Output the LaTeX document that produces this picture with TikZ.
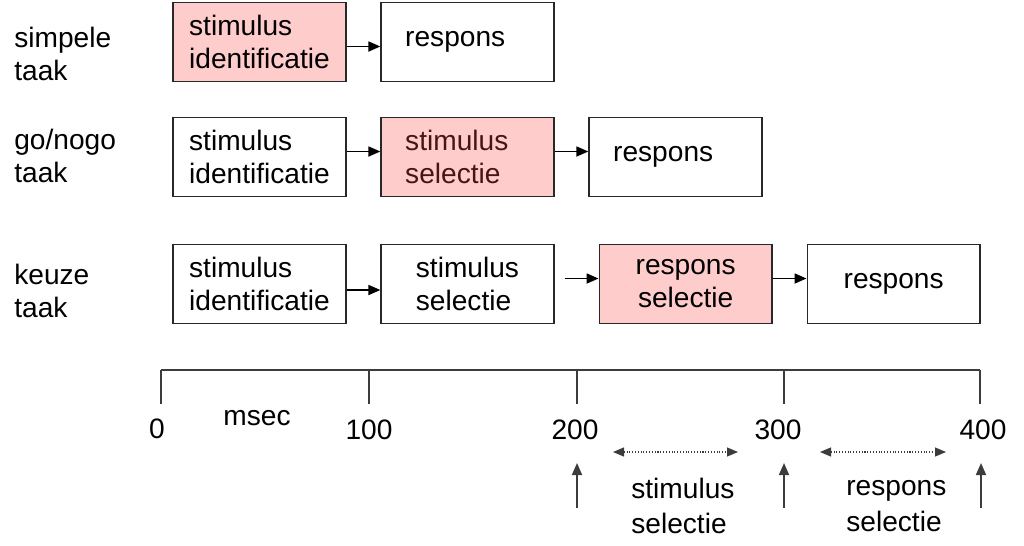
\documentclass[tikz,border=0pt]{standalone}
\usepackage{fontspec}
\setmainfont{Liberation Sans}
\usepackage{xcolor}
\usepackage{tikz}
\usetikzlibrary{arrows.meta, positioning}
\definecolor{boxpink}{RGB}{255,204,204}
\definecolor{boxline}{RGB}{40,40,40}
\definecolor{axisgray}{RGB}{60,60,60}
\definecolor{seltext}{RGB}{75,20,20}

\begin{document}
\begin{tikzpicture}[
    x=0.02cm, y=-0.02cm,
    font=\fontsize{16}{18.8}\selectfont,
    node distance=1cm and 0.675cm,
    box/.style={rectangle, draw=boxline, fill=white, line width=1pt, minimum width=3.45cm, minimum height=1.58cm, align=left, inner sep=0pt},
    shiftbox/.style={box, text width=2.49cm, inner xsep=0.48cm},
    pinkbox/.style={fill=boxpink},
    task/.style={anchor=west, align=left, inner sep=0pt},
    bottom/.style={task, font=\fontsize{16}{20}\selectfont},
    arrow/.style={-{Triangle[length=0.24cm, width=0.2cm]}, line width=1pt, draw=black},
    axis/.style={line width=1pt, draw=axisgray},
    span/.style={{Triangle[length=0.22cm, width=0.18cm]}-{Triangle[length=0.22cm, width=0.18cm]}, densely dotted, line width=0.6pt, draw=axisgray}
]
\useasboundingbox (0,0) rectangle (1024,545);

% task labels
\node (simpel) [task] at (14,54) {simpele\\taak};
\node (gonogo) [task] at (14,156) {go/nogo\\taak};
\node (keuze) [task] at (14,291) {keuze\\taak};

% simpele taak
\node (simpA) [box, pinkbox] at (259.5,42) {stimulus\\identificatie};
\node (simpB) [shiftbox, right=of simpA] {respons};
\draw [arrow] ([yshift=-0.09cm]simpA.east) -- ([yshift=-0.09cm]simpB.west);

% go/nogo taak
\node (gonoA) [box] at (259.5,157) {stimulus\\identificatie};
\node (gonoB) [shiftbox, pinkbox, text=seltext, right=of gonoA] {stimulus\\selectie};
\node (gonoC) [shiftbox, right=of gonoB] {respons};
\draw [arrow] ([yshift=0.11cm]gonoA.east) -- ([yshift=0.11cm]gonoB.west);
\draw [arrow] ([yshift=0.11cm]gonoB.east) -- ([yshift=0.11cm]gonoC.west);

% keuze taak
\node (keuzeA) [box] at (259.5,284) {stimulus\\identificatie};
\node (keuzeB) [box, right=of keuzeA] {stimulus\\selectie};
\node (keuzeC) [box, pinkbox, align=center, right=0.88cm of keuzeB] {respons\\selectie};
\node (keuzeD) [box, right=of keuzeC] {respons};
\draw [arrow] ([yshift=-0.12cm]keuzeA.east) -- ([yshift=-0.12cm]keuzeB.west);
\draw [arrow, shorten <=0.2cm] ([yshift=0.11cm]keuzeB.east) -- ([yshift=0.11cm]keuzeC.west);
\draw [arrow] ([yshift=0.11cm]keuzeC.east) -- ([yshift=0.11cm]keuzeD.west);

% tijdas
\coordinate (t0) at (161,370);
\coordinate (t1) at (369,370);
\coordinate (t2) at (577,370);
\coordinate (t3) at (784,370);
\coordinate (t4) at (980,370);
\draw [axis] (t0) -- (t4);
\foreach \t in {t0,t1,t2,t3,t4}
    \draw [axis] (\t) -- ++(0,34);
\node (n0) at (157,429) {0};
\node (n1) at (369,430) {100};
\node (n2) at (575,430) {200};
\node (n3) at (778,430) {300};
\node (n4) at (983,430) {400};
\node (msec) at (257,418) {msec};

% selectie-intervallen
\coordinate (s1a) at (613,452);
\coordinate (s1b) at (738,452);
\coordinate (s2a) at (820,452);
\coordinate (s2b) at (946,452);
\draw [span] (s1a) -- (s1b);
\draw [span] (s2a) -- (s2b);
\node (stimsel) [bottom] at (631,506) {stimulus\\selectie};
\node (respsel) [bottom] at (846,506) {respons\\selectie};

\coordinate (u2b) at (577,508);
\coordinate (u2t) at (577,463);
\coordinate (u3b) at (784,508);
\coordinate (u3t) at (784,463);
\coordinate (u4b) at (981,508);
\coordinate (u4t) at (981,463);
\draw [arrow, draw=axisgray] (u2b) -- (u2t);
\draw [arrow, draw=axisgray] (u3b) -- (u3t);
\draw [arrow, draw=axisgray] (u4b) -- (u4t);
\end{tikzpicture}
\end{document}
